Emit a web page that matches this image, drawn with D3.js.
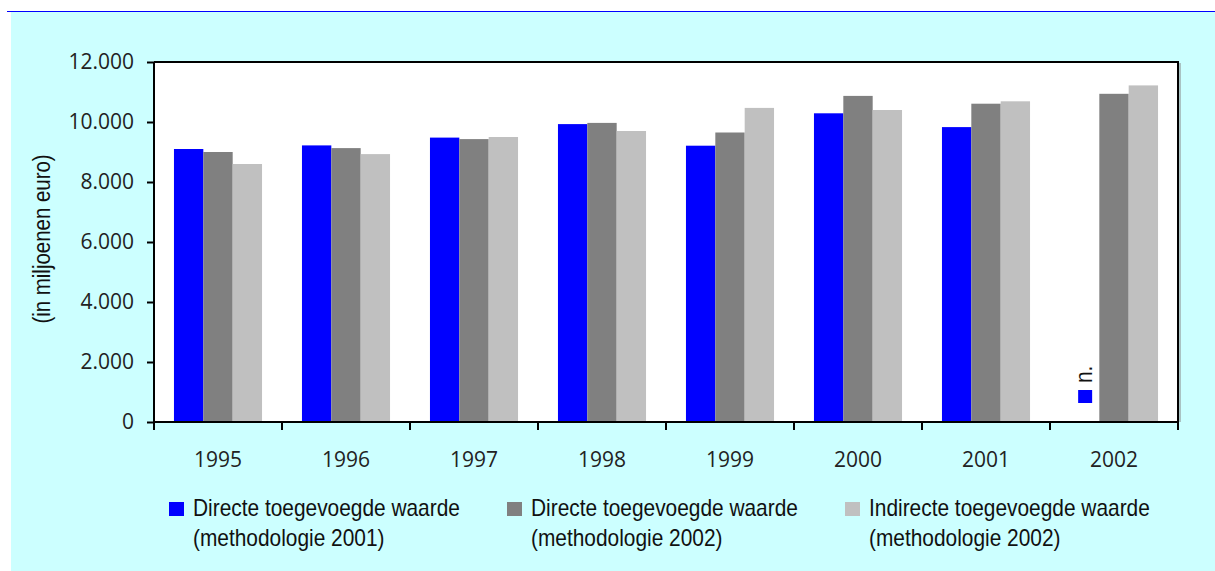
<!DOCTYPE html>
<html lang="nl">
<head>
<meta charset="utf-8">
<title>Toegevoegde waarde</title>
<script src="https://cdn.jsdelivr.net/npm/d3@7"></script>
<style>
  body { margin: 0; background: #fff; }
  svg { display: block; }
</style>
</head>
<body>
<script>
// data (in miljoenen euro)
var years = ["1995", "1996", "1997", "1998", "1999", "2000", "2001", "2002"];
var direct2001 = [9100, 9220, 9480, 9930, 9210, 10290, 9830, null];
var direct2002 = [9000, 9130, 9430, 9970, 9650, 10870, 10610, 10940];
var indirect2002 = [8600, 8930, 9500, 9700, 10470, 10400, 10690, 11220];
var yTicks = [0, 2000, 4000, 6000, 8000, 10000, 12000];
var seriesNames = [
  ["Directe toegevoegde waarde", "(methodologie 2001)"],
  ["Directe toegevoegde waarde", "(methodologie 2002)"],
  ["Indirecte toegevoegde waarde", "(methodologie 2002)"]
];
var colors = ["#0000ff", "#808080", "#c0c0c0"];

var W = 1215, H = 571;
var pL = 154, pR = 1178, pT = 62, pB = 422;
var narrow = "'Liberation Sans', Arial, sans-serif";
var squeeze = 0.87;

var svg = d3.select("body").append("svg")
    .attr("width", W).attr("height", H);

// achtergrond
svg.append("rect").attr("x", 11).attr("y", 12)
    .attr("width", W - 11).attr("height", H - 12)
    .attr("fill", "#ccffff");
svg.append("line").attr("x1", 7).attr("x2", W).attr("y1", 11.5).attr("y2", 11.5)
    .attr("stroke", "#0000ff").attr("stroke-width", 1.2);

var x0 = d3.scaleBand().domain(years).range([pL, pR]).paddingInner(0).paddingOuter(0);
var x1 = d3.scaleBand().domain([0, 1, 2]).range([0, x0.bandwidth()]).paddingInner(0).paddingOuter(0.68);
var y = d3.scaleLinear().domain([0, 12000]).range([pB, pT]);

svg.append("rect").attr("x", pL).attr("y", pT)
    .attr("width", pR - pL).attr("height", pB - pT)
    .attr("fill", "#fff");

var series = [direct2001, direct2002, indirect2002];
var rows = [];
years.forEach(function(yr, i) {
  series.forEach(function(s, k) {
    if (s[i] != null) rows.push({ year: yr, k: k, v: s[i] });
  });
});

svg.append("g").selectAll("rect")
  .data(rows)
  .enter().append("rect")
    .attr("x", d => x0(d.year) + x1(d.k))
    .attr("y", d => y(d.v))
    .attr("width", x1.bandwidth())
    .attr("height", d => y(0) - y(d.v))
    .attr("fill", d => colors[d.k]);

// "n." voor 2002, methodologie 2001
var nx = x0("2002") + x1(0) + x1.bandwidth() / 2;
svg.append("rect").attr("x", nx - 6.5).attr("y", 390).attr("width", 14).attr("height", 13)
    .attr("fill", colors[0]);
svg.append("text")
    .attr("transform", "translate(" + (nx + 7) + ",383) rotate(-90) scale(" + squeeze + ",1)")
    .attr("font-family", narrow)
    .attr("font-size", 24).attr("fill", "#111")
    .text("n.");

// plot rand
svg.append("path")
    .attr("d", "M" + pL + "," + pT + "H" + pR + "V" + pB)
    .attr("fill", "none").attr("stroke", "#000").attr("stroke-width", 2);
svg.append("line").attr("x1", pR + 2).attr("x2", pR + 2).attr("y1", pT + 1).attr("y2", pB)
    .attr("stroke", "#888").attr("stroke-width", 1);

// y-as
var yAxis = svg.append("g")
    .attr("transform", "translate(" + pL + ",0)")
    .call(d3.axisLeft(y).tickValues(yTicks).tickSize(7).tickPadding(13)
      .tickFormat(d => d3.format(",")(d).replace(/,/g, ".")));
yAxis.select(".domain").attr("stroke", "#000").attr("stroke-width", 2)
    .attr("d", "M0," + pT + "V" + (pB + 8));
yAxis.selectAll(".tick line").attr("stroke", "#000").attr("stroke-width", 2);
yAxis.selectAll("text")
    .attr("font-family", "'Open Sans', sans-serif")
    .attr("font-size", 21).attr("fill", "#222");

// x-as
var xAxis = svg.append("g").attr("transform", "translate(0," + pB + ")");
xAxis.append("line").attr("x1", pL).attr("x2", pR + 1)
    .attr("stroke", "#000").attr("stroke-width", 2);
xAxis.selectAll(".tk")
  .data(d3.range(years.length + 1))
  .enter().append("line")
    .attr("x1", i => pL + i * x0.step())
    .attr("x2", i => pL + i * x0.step())
    .attr("y1", 0).attr("y2", 8)
    .attr("stroke", "#000").attr("stroke-width", 2);
xAxis.selectAll(".lbl")
  .data(years)
  .enter().append("text")
    .attr("x", d => x0(d) + x0.bandwidth() / 2)
    .attr("y", 45)
    .attr("text-anchor", "middle")
    .attr("font-family", "'Open Sans', sans-serif")
    .attr("font-size", 21).attr("fill", "#222")
    .text(d => d);

// as-titel
svg.append("text")
    .attr("transform", "translate(50,239) rotate(-90) scale(" + squeeze + ",1)")
    .attr("text-anchor", "middle")
    .attr("font-family", narrow)
    .attr("font-size", 23.5).attr("fill", "#111")
    .text("(in miljoenen euro)");

// legenda
var legX = [169, 507, 845];
var leg = svg.append("g").selectAll("g")
  .data(seriesNames)
  .enter().append("g")
    .attr("transform", (d, i) => "translate(" + legX[i] + ",0)");
leg.append("rect").attr("x", 0).attr("y", 502).attr("width", 15).attr("height", 14)
    .attr("fill", (d, i) => colors[i]);
leg.selectAll("text")
  .data(d => d)
  .enter().append("text")
    .attr("transform", (d, j) => "translate(24," + (516 + j * 30) + ") scale(" + squeeze + ",1)")
    .attr("font-family", narrow)
    .attr("font-size", 24).attr("fill", "#111")
    .text(d => d);
</script>
</body>
</html>
